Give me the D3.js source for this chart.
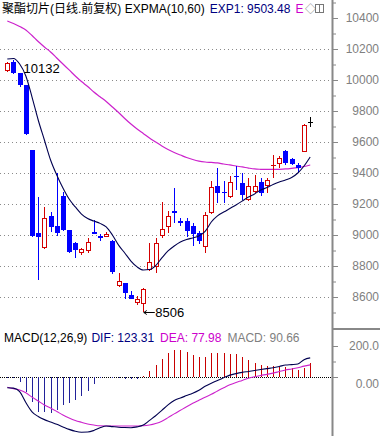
<!DOCTYPE html>
<html><head><meta charset="utf-8">
<script src="https://cdn.jsdelivr.net/npm/d3@7"></script>
<style>
body{margin:0;background:#fff}
svg{display:block}
text{font-family:"Liberation Sans",Arial,"Noto Sans CJK SC",sans-serif}
</style>
</head><body>
<svg id="c" width="380" height="436"></svg>
<script>
// ---- data ----
const opens  = [10055,10114,10043,9968,9548,9015,8914,9123,9058,9252,9032,8950,8886,8899,9021,8994,8989,8963,8669,8690,8611,8563,8555,8774,8795,8995,9054,9157,9092,9090,9058,9011,8925,9140,9316,9279,9247,9383,9334,9226,9279,9344,9316,9450,9458,9542,9488,9452,9537,9731];
const highs  = [10116,10132,10045,9970,9550,9247,9179,9146,9398,9279,9035,8953,8915,8979,9097,9008,9021,8965,8753,8693,8639,8606,8655,8950,8981,9211,9157,9301,9112,9112,9075,9028,9146,9348,9430,9350,9381,9445,9398,9370,9387,9366,9366,9516,9510,9548,9500,9466,9715,9763];
const lows   = [10050,10040,9953,9645,8990,8710,8910,9021,8994,9028,8886,8850,8870,8886,9005,8961,8985,8750,8666,8585,8585,8548,8506,8765,8757,8983,9015,9079,9058,8989,8929,8942,8882,9135,9205,9208,9237,9290,9226,9222,9269,9252,9269,9366,9430,9452,9450,9398,9535,9695];
const closes = [10112,10043,9968,9652,8994,8985,9108,9050,9015,9032,8892,8903,8908,8953,9008,8983,9004,8763,8703,8624,8589,8585,8650,8828,8950,9037,9123,9144,9075,9026,9005,8961,9127,9308,9269,9269,9344,9380,9258,9316,9316,9273,9355,9452,9495,9466,9458,9430,9710,9731];
const exp1 = [10135,10139,10103,10026,9890,9742,9613,9484,9387,9303,9232,9181,9135,9106,9090,9075,9052,9000,8935,8884,8832,8794,8774,8777,8803,8852,8897,8929,8955,8971,8981,8994,9023,9084,9123,9148,9171,9194,9219,9245,9265,9290,9306,9326,9342,9355,9371,9400,9445,9503.48];
const exp2 = [10381,10365,10345,10323,10287,10248,10213,10181,10142,10103,10065,10026,9990,9958,9923,9892,9861,9826,9790,9752,9716,9684,9655,9626,9600,9574,9552,9532,9516,9500,9487,9477,9471,9468,9465,9458,9452,9445,9439,9432,9426,9424,9423,9423,9424,9426,9430,9435,9442,9452];
const dif  = [-69,-72,-95,-165,-225,-255,-275,-290,-305,-322,-338,-350,-356,-355,-345,-328,-316,-320,-324,-326,-327,-322,-310,-280,-250,-215,-180,-152,-135,-120,-105,-86,-60,-40,-22,-5,12,22,30,36,42,48,54,60,68,77,80,84,112,123.31];
const dea  = [-66,-75,-84,-102,-130,-155,-180,-200,-222,-245,-264,-280,-292,-303,-310,-315,-316,-316,-316,-316,-316,-316,-315,-310,-300,-285,-262,-238,-215,-192,-170,-150,-130,-112,-90,-70,-50,-35,-22,-8,2,10,17,25,35,45,52,60,70,77.98];
const macd = [-5,-8,-30,-95,-159,-224,-224,-230,-213,-181,-170,-146,-123,-88,-47,-8,-3,-6,-5,-13,-13,-12,4,41,77,114,153,174,174,159,142,131,131,153,153,153,148,146,127,110,92,77,71,71,67,67,56,45,60,90.66];
const priceTicks = [8600,8800,9000,9200,9400,9600,9800,10000,10200,10400];
const priceMinor = [8500,8700,8900,9100,9300,9500,9700,9900,10100,10300,10500];
const macdTicks = [0,200];
const macdMinor = [100];
const maxLabel = {value:10132, index:1};
const minLabel = {value:8506, index:22};

// ---- drawing ----
const svg = d3.select("#c");
const axisX = 332;
const idx = d3.range(closes.length);
const x = d3.scaleLinear().domain([0, closes.length-1]).range([7.3, 310.2]);
const y = d3.scaleLinear().domain([8600,10400]).range([297,18]);
const ym = d3.scaleLinear().domain([0,200]).range([377,346]);

const RED="#d40000", BLUE="#0000ff", GRID="#8a8a8a";

// grid
svg.append("g").selectAll("line").data(priceTicks.filter(v=>v<10400)).join("line")
  .attr("x1",0).attr("x2",axisX).attr("y1",d=>Math.round(y(d))+0.5).attr("y2",d=>Math.round(y(d))+0.5)
  .attr("stroke",GRID).attr("stroke-dasharray","1,3");
svg.append("line").attr("x1",0).attr("x2",axisX).attr("y1",Math.round(ym(0))+0.5).attr("y2",Math.round(ym(0))+0.5)
  .attr("stroke","#000").attr("stroke-dasharray","1,1");

// EMA lines
const line = (arr, sc) => d3.line().x((d,i)=>x(i)).y(d=>sc(d)).curve(d3.curveMonotoneX)(arr);
svg.append("path").attr("d", line(exp2,y)).attr("fill","none").attr("stroke","#cc22cc").attr("stroke-width",1.2);

// candles
const cg = svg.append("g").attr("shape-rendering","crispEdges");
idx.forEach(i=>{
  const cx = Math.round(x(i));
  const o=opens[i], c=closes[i], h=highs[i], l=lows[i];
  const top = y(Math.max(o,c)), bot = y(Math.min(o,c));
  if (c>o) {
    const t=Math.round(top), b=Math.max(Math.round(bot), t+1);
    cg.append("line").attr("x1",cx+0.5).attr("x2",cx+0.5).attr("y1",y(h)).attr("y2",t).attr("stroke",RED);
    cg.append("line").attr("x1",cx+0.5).attr("x2",cx+0.5).attr("y1",b).attr("y2",y(l)).attr("stroke",RED);
    if (b-t<=1) cg.append("line").attr("x1",cx-2).attr("x2",cx+3).attr("y1",t+0.5).attr("y2",t+0.5).attr("stroke",RED);
    else cg.append("rect").attr("x",cx-1.5).attr("y",t+0.5).attr("width",4).attr("height",b-t-1).attr("fill","#fff").attr("stroke",RED);
  } else if (c<o) {
    const t=Math.round(top), b=Math.max(Math.round(bot), t+1);
    cg.append("line").attr("x1",cx+0.5).attr("x2",cx+0.5).attr("y1",y(h)).attr("y2",y(l)).attr("stroke",BLUE);
    cg.append("rect").attr("x",cx-2).attr("y",t).attr("width",5).attr("height",b-t).attr("fill",BLUE);
  } else {
    cg.append("line").attr("x1",cx+0.5).attr("x2",cx+0.5).attr("y1",y(h)).attr("y2",y(l)).attr("stroke","#000");
    cg.append("line").attr("x1",cx-2).attr("x2",cx+3).attr("y1",Math.round(top)+0.5).attr("y2",Math.round(top)+0.5).attr("stroke","#000");
  }
});

svg.append("path").attr("d", line(exp1,y)).attr("fill","none").attr("stroke","#000050").attr("stroke-width",1.1);

// max / min labels
svg.append("text").attr("x",x(maxLabel.index)+10).attr("y",y(maxLabel.value)+13).attr("font-size",13).attr("fill","#000").text(maxLabel.value);
const mx = x(minLabel.index)+0.5, my = Math.round(y(minLabel.value))+0.5;
svg.append("path").attr("d",`M${mx},${my}H${mx+11}M${mx},${my}l3,-2M${mx},${my}l3,2`).attr("stroke","#000").attr("fill","none");
svg.append("text").attr("x",mx+11.5).attr("y",my+4.5).attr("font-size",13).attr("fill","#000").text(minLabel.value);

// MACD bars
const mg = svg.append("g").attr("shape-rendering","crispEdges");
mg.selectAll("line").data(macd).join("line")
  .attr("x1",(d,i)=>Math.round(x(i))+0.5).attr("x2",(d,i)=>Math.round(x(i))+0.5)
  .attr("y1",ym(0)).attr("y2",d=>ym(d))
  .attr("stroke",d=>d>=0?"#c80000":"#22229a");
svg.append("path").attr("d", line(dea,ym)).attr("fill","none").attr("stroke","#cc22cc").attr("stroke-width",1.1);
svg.append("path").attr("d", line(dif,ym)).attr("fill","none").attr("stroke","#000050").attr("stroke-width",1.1);

// right axes
svg.append("rect").attr("x",axisX+1).attr("y",0).attr("width",48).attr("height",436).attr("fill","#fff");
svg.append("line").attr("x1",axisX+0.5).attr("x2",axisX+0.5).attr("y1",0).attr("y2",436).attr("stroke","#888").attr("stroke-width",2);
svg.append("line").attr("x1",axisX).attr("x2",380).attr("y1",329).attr("y2",329).attr("stroke","#888").attr("stroke-width",2);

function styleAxis(g){
  g.select(".domain").remove();
  g.selectAll(".tick line").attr("stroke","#888");
  g.selectAll("text").attr("fill","#808080").attr("font-size",12)
    .attr("font-family","'Liberation Sans',Arial,sans-serif").attr("text-anchor","end").attr("x",46);
}
const ga = svg.append("g").attr("transform",`translate(${axisX+1},0)`)
  .call(d3.axisRight(y).tickValues(priceTicks).tickSize(5).tickFormat(d3.format("d")));
styleAxis(ga);
const gb = svg.append("g").attr("transform",`translate(${axisX+1},0)`)
  .call(d3.axisRight(y).tickValues(priceMinor).tickSize(3).tickFormat(""));
styleAxis(gb);
const gc = svg.append("g").attr("transform",`translate(${axisX+1},0)`)
  .call(d3.axisRight(ym).tickValues(macdTicks).tickSize(5).tickFormat(d=>d===0?"0.00":d3.format(".1f")(d)));
styleAxis(gc);
gc.selectAll("text").filter(d=>d===0).attr("dy","0.85em");
const gd = svg.append("g").attr("transform",`translate(${axisX+1},0)`)
  .call(d3.axisRight(ym).tickValues(macdMinor).tickSize(3).tickFormat(""));
styleAxis(gd);

// headers
const h1 = svg.append("text").attr("x",2).attr("y",13).attr("font-size",12);
h1.append("tspan").attr("fill","#000").text("聚酯切片(日线.前复权) EXPMA(10,60)");
h1.append("tspan").attr("fill","#000080").attr("dx",5).text("EXP1: " + d3.format(".2f")(exp1[exp1.length-1]));
h1.append("tspan").attr("fill","#cc00cc").attr("dx",5).text("E");
svg.append("text").attr("x",305).attr("y",13).attr("font-size",11).attr("fill","#777").attr("font-family","DejaVu Sans").text("◇");
svg.append("rect").attr("x",315.5).attr("y",4.5).attr("width",8).attr("height",8).attr("fill","none").attr("stroke","#777");
svg.append("line").attr("x1",319.5).attr("x2",319.5).attr("y1",4.5).attr("y2",12.5).attr("stroke","#777");

const h2 = svg.append("text").attr("x",4).attr("y",342).attr("font-size",12);
h2.append("tspan").attr("fill","#000").text("MACD(12,26,9)");
h2.append("tspan").attr("fill","#000080").attr("dx",4).text("DIF: " + d3.format(".2f")(dif[dif.length-1]));
h2.append("tspan").attr("fill","#cc00cc").attr("dx",6).text("DEA: " + d3.format(".2f")(dea[dea.length-1]));
h2.append("tspan").attr("fill","#808080").attr("dx",6).text("MACD: " + d3.format(".2f")(macd[macd.length-1]));
</script>
</body></html>
